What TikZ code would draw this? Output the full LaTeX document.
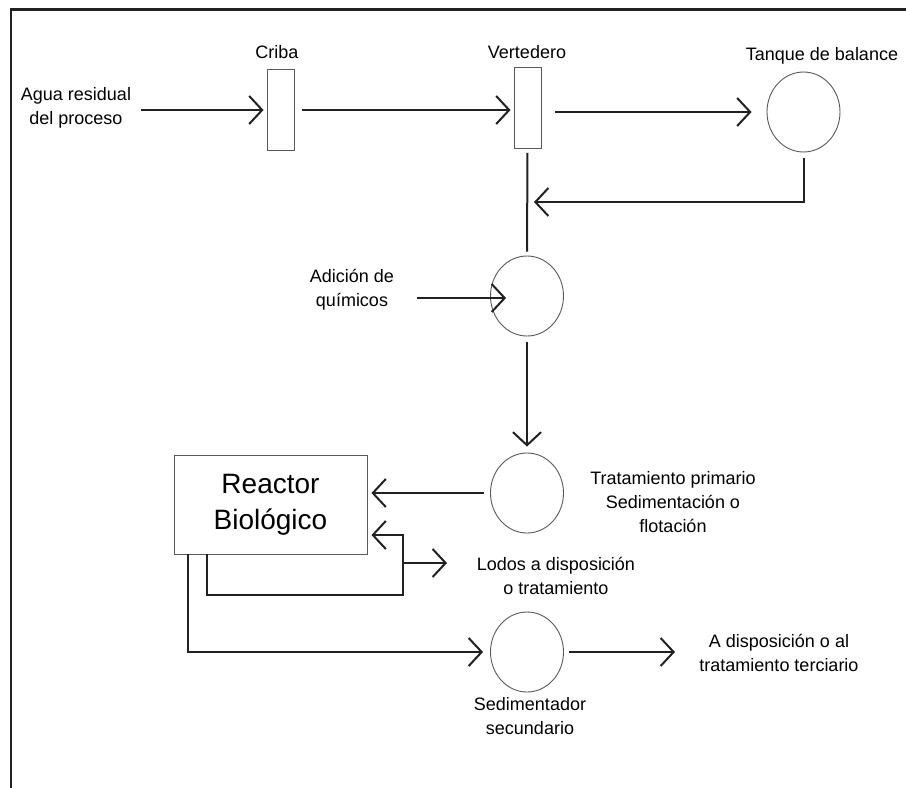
\documentclass[tikz,border=0pt]{standalone}
\usepackage{fontspec}
\setmainfont{Liberation Sans}
\usetikzlibrary{arrows.meta,shapes.geometric}
\definecolor{linecolor}{rgb}{0.13,0.13,0.13}
\definecolor{shapecolor}{rgb}{0.35,0.35,0.35}

\begin{document}
\begin{tikzpicture}[x=1pt,y=-1pt,
  unit/.style={draw=shapecolor, line width=0.9pt, rectangle, minimum width=27pt, minimum height=81pt, inner sep=0pt},
  tank/.style={draw=shapecolor, line width=0.9pt, ellipse, minimum width=73pt, minimum height=80pt, inner sep=0pt},
  txt/.style={font=\fontsize{18}{24}\selectfont, align=center, inner sep=0pt},
  flow/.style={draw=linecolor, line width=2pt, -{Straight Barb[length=13pt,width=28pt]}},
  pipe/.style={draw=linecolor, line width=2pt}]
\useasboundingbox (0,0) rectangle (906,788);

% frame
\draw[linecolor, line width=2.5pt] (11,788) -- (11,9.5) -- (906,9.5);

% units
\node[unit] (criba) at (280.5,110) {};
\node[unit] (verte) at (527.5,108) {};
\node[tank] (tanque) at (803.5,112) {};
\node[tank] (quim) at (527,296) {};
\node[tank] (prim) at (527,493) {};
\node[tank] (sec) at (527,652) {};
\node[draw=shapecolor, line width=0.9pt, minimum width=193pt, minimum height=99pt, align=center,
      font=\fontsize{28}{36}\selectfont] (reactor) at (270.5,504.5) {Reactor\\Biológico};

% labels
\node[txt] (agua) at (76,108) {Agua residual\\del proceso};
\node[txt] (cribaL) at (277,52) {Criba};
\node[txt] (verteL) at (527,52) {Vertedero};
\node[txt] (tanqueL) at (822,56) {Tanque de balance};
\node[txt] (quimL) at (352,290) {Adición de\\químicos};
\node[txt] (primL) at (673,502) {Tratamiento primario\\Sedimentación o\\flotación};
\node[txt] (lodosL) at (556,576) {Lodos a disposición\\o tratamiento};
\node[txt] (finL) at (779,653) {A disposición o al\\tratamiento terciario};
\node[txt] (secL) at (530,716) {Sedimentador\\secundario};

% free ends
\coordinate (ret) at (534,202);
\coordinate (quimIn) at (417,298);
\coordinate (lodosA) at (207,595);
\coordinate (lodosB) at (403,595);
\coordinate (lodosC) at (403,535);
\coordinate (lodosD) at (403,563);
\coordinate (lodosOut) at (447,563);
\coordinate (secA) at (188,652);
\coordinate (finOut) at (675,652);

% flows
\draw[flow, shorten <=10pt, shorten >=3pt] (agua.east |- criba.west) -- (criba.west);
\draw[flow, shorten <=8pt, shorten >=3pt] (criba.east) -- (criba.east -| verte.west);
\draw[flow, shorten <=14pt, shorten >=15pt] (verte.east |- tanque.west) -- (tanque.west);
\draw[flow, shorten <=6pt] (tanque.south) |- (ret);
\draw[pipe, shorten <=4pt, shorten >=4pt] (verte.south) -- (quim.north);
\draw[flow] (quimIn) -- ([xshift=16pt]quim.west |- quimIn);
\draw[flow, shorten <=6pt, shorten >=6pt] (quim.south) -- (prim.north);
\draw[flow, shorten <=6pt, shorten >=4pt] (prim.west) -- (prim.west -| reactor.east);
\draw[flow, shorten >=4pt] (reactor.south -| lodosA) -- (lodosA) -- (lodosB) -- (lodosC) -- (lodosC -| reactor.east);
\draw[flow] (lodosD) -- (lodosOut);
\draw[flow, shorten >=7pt] (reactor.south -| secA) -- (secA) -- (sec.west);
\draw[flow, shorten <=5pt] (sec.east) -- (finOut);

\end{tikzpicture}
\end{document}
